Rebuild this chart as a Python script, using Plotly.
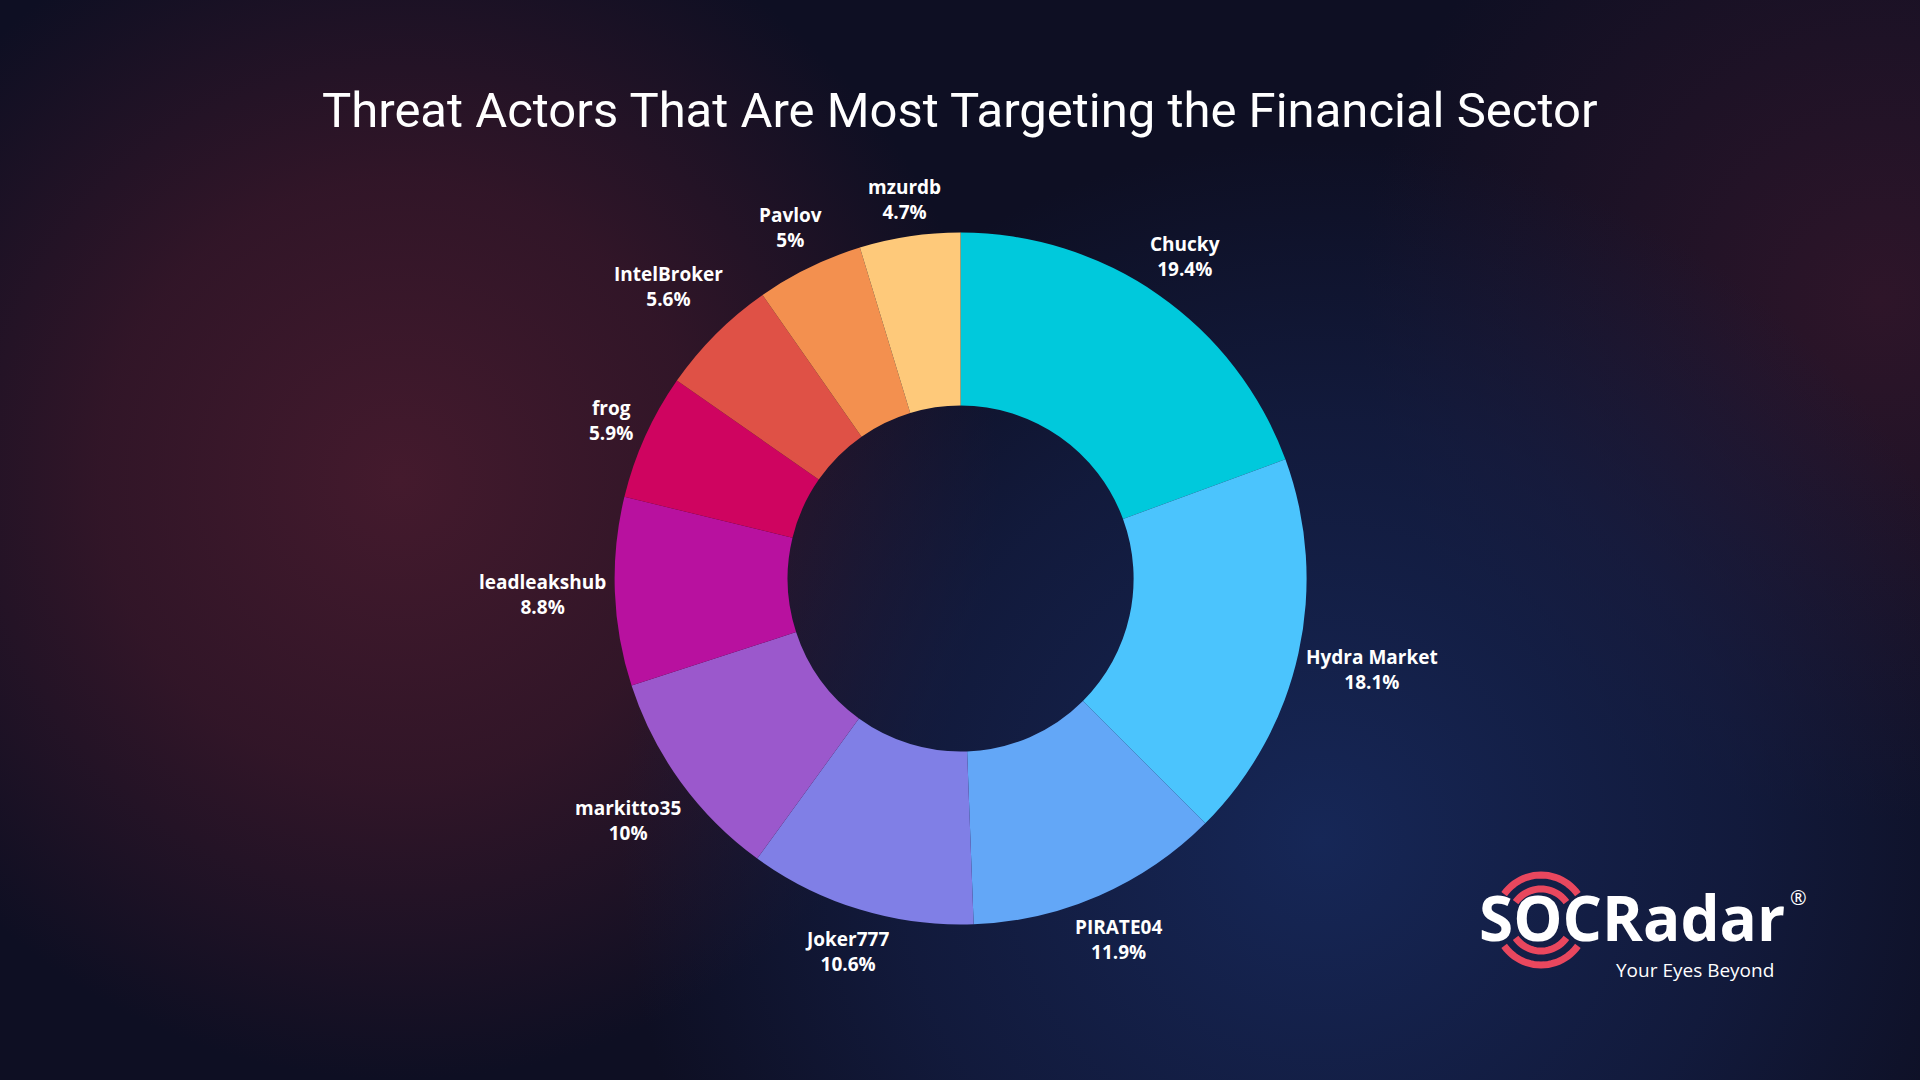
import base64
import math
import plotly.graph_objects as go

# ---------------- data ----------------
actors = ["Chucky", "Hydra Market", "PIRATE04", "Joker777", "markitto35",
          "leadleakshub", "frog", "IntelBroker", "Pavlov", "mzurdb"]
shares = [19.4, 18.1, 11.9, 10.6, 10.0, 8.8, 5.9, 5.6, 5.0, 4.7]
slice_colors = ["#00C9DC", "#4BC4FD", "#63A7F7", "#807FE6", "#9B58CC",
                "#B8119F", "#CF0460", "#DF5146", "#F3904F", "#FEC97A"]
share_text = [f"{v:g}%" for v in shares]

title_text = "Threat Actors That Are Most Targeting the Financial Sector"

W, H = 1920, 1080


def px(x, y):
    """pixel (from top-left) -> paper coords"""
    return x / W, 1 - y / H


# ---------------- background gradient (svg image) ----------------
svg = f"""<svg xmlns='http://www.w3.org/2000/svg' width='{W}' height='{H}' viewBox='0 0 {W} {H}'>
<defs>
<radialGradient id='red' gradientUnits='userSpaceOnUse' cx='400' cy='480' r='600'>
<stop offset='0' stop-color='#441a2d'/>
<stop offset='0.5' stop-color='#3a1729' stop-opacity='0.8'/>
<stop offset='1' stop-color='#3a1729' stop-opacity='0'/>
</radialGradient>
<radialGradient id='blue' gradientUnits='userSpaceOnUse' cx='1320' cy='840' r='700'>
<stop offset='0' stop-color='#162757'/>
<stop offset='0.6' stop-color='#152350' stop-opacity='0.55'/>
<stop offset='1' stop-color='#152350' stop-opacity='0'/>
</radialGradient>
<radialGradient id='tr' gradientUnits='userSpaceOnUse' cx='1880' cy='300' r='520'>
<stop offset='0' stop-color='#2e1529'/>
<stop offset='1' stop-color='#2e1529' stop-opacity='0'/>
</radialGradient>
</defs>
<rect width='{W}' height='{H}' fill='#0e0f23'/>
<rect width='{W}' height='{H}' fill='url(#red)'/>
<rect width='{W}' height='{H}' fill='url(#tr)'/>
<rect width='{W}' height='{H}' fill='url(#blue)'/>
</svg>"""
bg_uri = "data:image/svg+xml;base64," + base64.b64encode(svg.encode()).decode()

# ---------------- donut ----------------
cx, cy, R = 960.6, 578.6, 346.0
dom_x = [(cx - R) / W, (cx + R) / W]
dom_y = [(H - cy - R) / H, (H - cy + R) / H]

fig = go.Figure()
fig.add_trace(go.Pie(
    labels=actors,
    values=shares,
    text=share_text,
    textinfo="none",
    sort=False,
    direction="clockwise",
    rotation=0,
    hole=0.5,
    marker=dict(colors=slice_colors, line=dict(width=0)),
    showlegend=False,
    hoverinfo="label+text",
    domain=dict(x=dom_x, y=dom_y),
))

annotations = []

# ---------------- slice labels (placed along each slice's mid-angle) ----------------
LBL_SIZE = 19
total = sum(shares)
cum = 0.0
for name, v, t in zip(actors, shares, share_text):
    theta = 2 * math.pi * (cum + v / 2) / total
    cum += v
    ux, uy = math.sin(theta), -math.cos(theta)
    hw = 0.56 * LBL_SIZE * max(len(name), len(t)) / 2
    hh = 24.5
    d = R + 8 + abs(ux) * hw + abs(uy) * hh
    lx, ly = px(cx + ux * d, cy + uy * d)
    annotations.append(dict(text=f"{name}<br>{t}", x=lx, y=ly, xref="paper", yref="paper",
                            xanchor="center", yanchor="middle", showarrow=False,
                            align="center",
                            font=dict(family="Open Sans", size=LBL_SIZE, color="white",
                                      weight="bold")))

# ---------------- logo shapes (radar arcs) ----------------
shapes = []
ocx, ocy = 1541, 920
arc_color = "#E9475E"
for rad in (31, 45):
    for a0, a1 in ((35, 145), (215, 325)):
        pts = []
        n = 24
        for i in range(n + 1):
            a = math.radians(a0 + (a1 - a0) * i / n)
            pts.append(px(ocx + rad * math.cos(a), ocy - rad * math.sin(a)))
        path = "M " + " L ".join(f"{p[0]:.5f},{p[1]:.5f}" for p in pts)
        shapes.append(dict(type="path", path=path, xref="paper", yref="paper",
                           line=dict(color=arc_color, width=7), layer="above"))

# ---------------- title & logo text ----------------
tx, ty = px(960, 110)
annotations.append(dict(text=title_text, x=tx, y=ty, xref="paper", yref="paper",
                        xanchor="center", yanchor="middle", showarrow=False,
                        font=dict(family="Roboto", size=49, color="white")))

lx, ly = px(1477, 917)
annotations.append(dict(text="SOCRadar", x=lx, y=ly, xref="paper", yref="paper",
                        xanchor="left", yanchor="middle", showarrow=False,
                        font=dict(family="Open Sans", size=62, color="white", weight="bold")))
sx, sy = px(1776, 970)
annotations.append(dict(text="Your Eyes Beyond", x=sx, y=sy, xref="paper", yref="paper",
                        xanchor="right", yanchor="middle", showarrow=False,
                        font=dict(family="Open Sans", size=19, color="white")))
rx, ry = px(1798, 897)
annotations.append(dict(text="®", x=rx, y=ry, xref="paper", yref="paper",
                        xanchor="center", yanchor="middle", showarrow=False,
                        font=dict(family="Open Sans", size=20, color="white")))

fig.update_layout(
    width=W, height=H,
    margin=dict(l=0, r=0, t=0, b=0),
    paper_bgcolor="#0e0f23",
    plot_bgcolor="rgba(0,0,0,0)",
    images=[dict(source=bg_uri, xref="paper", yref="paper", x=0, y=1,
                 sizex=1, sizey=1, sizing="stretch", xanchor="left",
                 yanchor="top", layer="below")],
    shapes=shapes,
    annotations=annotations,
)

fig.write_html("out.html")
